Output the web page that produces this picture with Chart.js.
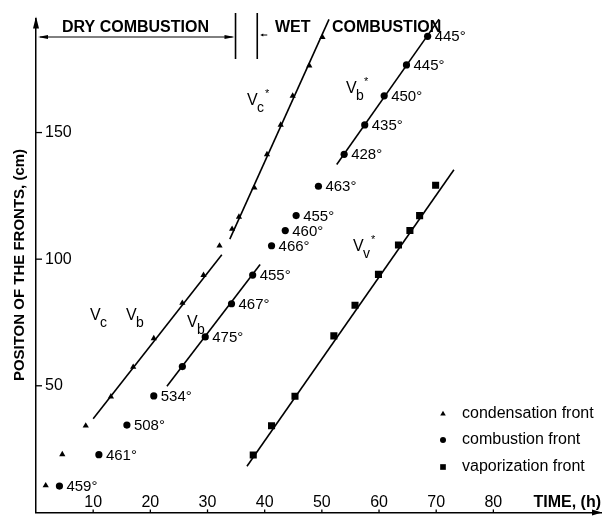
<!DOCTYPE html>
<html>
<head>
<meta charset="utf-8">
<script src="https://cdn.jsdelivr.net/npm/chart.js@4"></script>
<style>
  html, body { margin: 0; padding: 0; background: #fff; }
  canvas { display: block; }
</style>
</head>
<body>
<canvas id="fronts" width="602" height="531"></canvas>
<script>
// condensation front (triangles)
const condTime = [1.7, 4.6, 8.7, 13.1, 17.0, 20.6, 25.6, 29.3, 32.1, 34.3, 35.5, 38.2, 40.4, 42.8, 44.9, 47.8, 50.1];
const condPos = [10.6, 22.9, 34.2, 45.7, 57.4, 68.7, 82.7, 93.7, 105.3, 111.9, 116.7, 128.2, 141.4, 153, 164.5, 176.4, 187.7];

// combustion front (circles) + peak temperatures
const combTime = [4.1, 11.0, 15.9, 20.6, 25.6, 29.6, 34.2, 37.9, 41.2, 43.6, 45.5, 49.4, 53.9, 57.5, 60.9, 64.8, 68.5];
const combPos = [10.4, 22.8, 34.5, 46.0, 57.6, 69.3, 82.4, 93.7, 105.3, 111.3, 117.2, 128.8, 141.4, 153, 164.5, 176.7, 188];
const combTemps = ['459°', '461°', '508°', '534°', '', '475°', '467°', '455°', '466°', '460°', '455°', '463°', '428°', '435°', '450°', '445°', '445°'];

// vaporization front (squares)
const vapTime = [38.0, 41.2, 45.3, 52.1, 55.8, 59.9, 63.4, 65.4, 67.1, 69.9];
const vapPos = [22.7, 34.2, 45.9, 69.7, 81.8, 94.0, 105.6, 111.3, 117.2, 129.2];

// fitted velocity lines (end points)
const vcTime = [10.0, 32.5], vcPos = [37.0, 101.7];
const vcStarTime = [33.9, 51.25], vcStarPos = [107.9, 194.7];
const vbTime = [22.9, 39.2], vbPos = [49.8, 97.9];
const vbStarTime = [52.6, 70.5], vbStarPos = [137.4, 194.8];
const vvStarTime = [36.9, 73.1], vvStarPos = [18.2, 135.3];

// regime change (h)
const dryEnd = 34.9, wetStart = 38.7;

const xTickVals = [10, 20, 30, 40, 50, 60, 70, 80];
const yTickVals = [50, 100, 150];

const pts = (xs, ys) => xs.map((x, i) => ({ x: x, y: ys[i] }));
const FONT = '"Liberation Sans", Arial, Helvetica, sans-serif';

function fitLine(xs, ys) {
  return {
    type: 'line', data: pts(xs, ys), borderColor: '#000', borderWidth: 1.6,
    pointRadius: 0, showLine: true, fill: false
  };
}
function marks(xs, ys, style, r) {
  return {
    type: 'scatter', data: pts(xs, ys), pointStyle: style, pointRadius: r,
    backgroundColor: '#000', borderColor: '#000', borderWidth: 0, showLine: false
  };
}

const vLabels = [
  { x: 90, y: 320, sub: 'c' },
  { x: 126, y: 320, sub: 'b' },
  { x: 187, y: 327, sub: 'b' },
  { x: 247, y: 105, sub: 'c', star: true },
  { x: 346, y: 93, sub: 'b', star: true },
  { x: 353, y: 251, sub: 'v', star: true }
];

const legendItems = [
  { style: 'triangle', r: 3.2, text: 'condensation front', y: 414 },
  { style: 'circle', r: 3, text: 'combustion front', y: 440 },
  { style: 'rect', r: 4, text: 'vaporization front', y: 467 }
];

function arrowHead(ctx, x, y, dx, dy, len, half) {
  // tip at (x,y), pointing in direction (dx,dy)
  const px = -dy, py = dx;
  ctx.beginPath();
  ctx.moveTo(x, y);
  ctx.lineTo(x - dx * len + px * half, y - dy * len + py * half);
  ctx.lineTo(x - dx * len - px * half, y - dy * len - py * half);
  ctx.closePath();
  ctx.fill();
}

const decor = {
  id: 'decor',
  afterDraw(chart) {
    const { ctx, chartArea: a, scales: { x, y } } = chart;
    ctx.save();
    ctx.fillStyle = '#000';
    ctx.strokeStyle = '#000';
    ctx.lineWidth = 1.3;

    // x ticks drawn inside, above the axis
    ctx.font = '16px ' + FONT;
    ctx.textAlign = 'center';
    ctx.textBaseline = 'alphabetic';
    x.ticks.forEach(t => {
      const px = x.getPixelForValue(t.value);
      ctx.fillText(String(t.value), px, a.bottom - 5);
      ctx.beginPath(); ctx.moveTo(px, a.bottom); ctx.lineTo(px, a.bottom - 3); ctx.stroke();
    });
    ctx.font = 'bold 16px ' + FONT;
    ctx.textAlign = 'right';
    ctx.fillText('TIME, (h)', 601, a.bottom - 5);
    arrowHead(ctx, 602, a.bottom, 1, 0, 10, 3);

    // y tick marks, pointing into the plot
    y.ticks.forEach(t => {
      const py = y.getPixelForValue(t.value);
      ctx.beginPath(); ctx.moveTo(a.left, py); ctx.lineTo(a.left + 6, py); ctx.stroke();
    });
    arrowHead(ctx, a.left, a.top - 2, 0, -1, 12, 3);

    // y title
    ctx.save();
    ctx.translate(20, 265);
    ctx.rotate(-Math.PI / 2);
    ctx.font = 'bold 15px ' + FONT;
    ctx.textAlign = 'center';
    ctx.textBaseline = 'middle';
    ctx.fillText('POSITON OF THE FRONTS, (cm)', 0, 0);
    ctx.restore();

    // dry / wet combustion header
    const xd = x.getPixelForValue(dryEnd), xw = x.getPixelForValue(wetStart);
    ctx.font = 'bold 16px ' + FONT;
    ctx.textAlign = 'left';
    ctx.fillText('DRY COMBUSTION', 62, 32);
    ctx.fillText('WET', 275, 32);
    ctx.fillText('COMBUSTION', 332, 32);
    ctx.lineWidth = 1;
    ctx.beginPath(); ctx.moveTo(a.left + 4, 37); ctx.lineTo(xd - 3, 37); ctx.stroke();
    arrowHead(ctx, a.left + 2, 37, -1, 0, 10, 2);
    arrowHead(ctx, xd - 1, 37, 1, 0, 10, 2);
    ctx.lineWidth = 1.6;
    ctx.beginPath();
    ctx.moveTo(xd, 13); ctx.lineTo(xd, 59);
    ctx.moveTo(xw, 13); ctx.lineTo(xw, 59);
    ctx.stroke();
    ctx.lineWidth = 1;
    ctx.beginPath(); ctx.moveTo(xw + 5, 35); ctx.lineTo(xw + 10, 35); ctx.stroke();
    arrowHead(ctx, xw + 3, 35, -1, 0, 3, 1.5);

    // temperature labels next to the combustion points
    const meta = chart.getDatasetMeta(6);
    ctx.font = '15px ' + FONT;
    ctx.textAlign = 'left';
    ctx.textBaseline = 'middle';
    meta.data.forEach((p, i) => {
      if (combTemps[i]) ctx.fillText(combTemps[i], p.x + 7, p.y + 1);
    });

    // velocity labels
    ctx.textBaseline = 'alphabetic';
    vLabels.forEach(v => {
      ctx.font = '16px ' + FONT;
      ctx.fillText('V', v.x, v.y);
      ctx.font = '14px ' + FONT;
      ctx.fillText(v.sub, v.x + 10, v.y + 7);
      if (v.star) {
        ctx.font = '11px ' + FONT;
        ctx.fillText('*', v.x + 18, v.y - 8);
      }
    });

    // legend
    ctx.font = '16px ' + FONT;
    ctx.textBaseline = 'middle';
    legendItems.forEach(it => {
      Chart.helpers.drawPoint(ctx, { pointStyle: it.style, radius: it.r, rotation: 0, borderWidth: 0 }, 443, it.y);
      ctx.fillStyle = '#000';
      ctx.fillText(it.text, 462, it.y);
    });
    ctx.restore();
  }
};

new Chart(document.getElementById('fronts'), {
  type: 'scatter',
  data: {
    datasets: [
      fitLine(vcTime, vcPos),
      fitLine(vcStarTime, vcStarPos),
      fitLine(vbTime, vbPos),
      fitLine(vbStarTime, vbStarPos),
      fitLine(vvStarTime, vvStarPos),
      marks(condTime, condPos, 'triangle', 3.6),
      marks(combTime, combPos, 'circle', 3.6),
      marks(vapTime, vapPos, 'rect', 5)
    ]
  },
  options: {
    responsive: false,
    devicePixelRatio: 1,
    animation: false,
    events: [],
    layout: { autoPadding: false, padding: { left: 36, top: 12, right: 0, bottom: 1 } },
    plugins: { legend: { display: false }, tooltip: { enabled: false } },
    scales: {
      x: {
        type: 'linear', min: 0, max: 99,
        afterBuildTicks: s => { s.ticks = xTickVals.map(v => ({ value: v })); },
        afterFit: s => { s.height = 0; },
        ticks: { display: false },
        grid: { drawOnChartArea: false, drawTicks: false },
        border: { display: true, color: '#000', width: 1.5 }
      },
      y: {
        type: 'linear', min: 0, max: 195,
        afterBuildTicks: s => { s.ticks = yTickVals.map(v => ({ value: v })); },
        afterFit: s => { s.width = 0; },
        ticks: { mirror: true, padding: 9, color: '#000', font: { family: FONT, size: 16 } },
        grid: { drawOnChartArea: false, drawTicks: false },
        border: { display: true, color: '#000', width: 1.5 }
      }
    }
  },
  plugins: [decor]
});
</script>
</body>
</html>
